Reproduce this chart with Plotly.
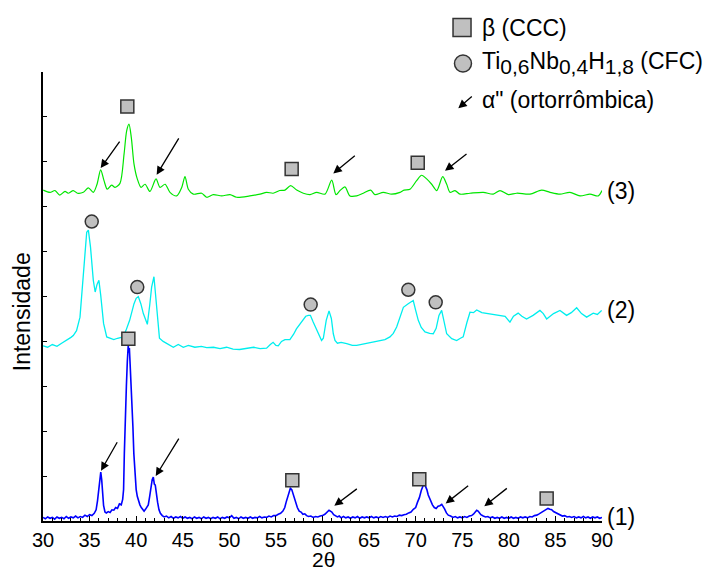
import plotly.graph_objects as go

# ---------------- data (2theta, intensity in arbitrary offset units) ----------------
blue_x = [30.0,30.25,30.5,30.75,31.0,31.25,31.5,31.75,32.0,32.25,32.5,32.75,33.0,33.25,33.5,33.75,34.0,34.25,34.5,34.75,
          35.0,35.25,35.5,35.7,35.85,36.0,36.1,36.2,36.3,36.4,36.5,36.65,36.8,37.0,37.2,37.4,37.6,37.8,38.0,38.2,38.4,
          38.55,38.65,38.73,38.8,38.95,39.05,39.15,39.2,39.27,39.35,39.45,39.55,39.65,39.75,39.87,40.0,40.12,40.25,40.4,
          40.55,40.7,40.85,41.0,41.15,41.3,41.45,41.6,41.72,41.84,41.95,42.05,42.15,42.3,42.45,42.6,42.8,43.0,43.25,43.5,
          43.75,44.0,44.25,44.5,44.75,45.0,45.25,45.5,45.75,46.0,46.25,46.5,46.75,47.0,47.25,47.5,47.75,48.0,48.25,48.5,
          48.75,49.0,49.25,49.5,49.75,50.0,50.25,50.5,50.75,51.0,51.25,51.5,51.75,52.0,52.25,52.5,52.75,53.0,53.25,53.5,
          53.75,54.0,54.25,54.5,54.75,55.0,55.25,55.5,55.75,55.95,56.1,56.25,56.4,56.55,56.7,56.85,57.0,57.15,57.3,57.5,
          57.7,57.9,58.1,58.3,58.5,58.75,59.0,59.25,59.5,59.75,60.0,60.25,60.5,60.7,60.85,61.0,61.2,61.4,61.6,61.8,
          62.0,62.25,62.5,62.75,63.0,63.25,63.5,63.75,64.0,64.25,64.5,64.75,65.0,65.25,65.5,65.75,66.0,66.25,66.5,66.75,
          67.0,67.25,67.5,67.75,68.0,68.25,68.5,68.75,69.0,69.25,69.5,69.75,70.0,70.2,70.4,70.6,70.75,70.9,71.0,71.1,
          71.2,71.35,71.5,71.65,71.8,72.0,72.2,72.4,72.6,72.8,72.95,73.1,73.3,73.5,73.75,74.0,74.25,74.5,74.75,75.0,
          75.25,75.5,75.75,76.0,76.2,76.4,76.55,76.7,76.85,77.0,77.25,77.5,77.75,78.0,78.25,78.5,78.75,79.0,79.25,79.5,
          79.75,80.0,80.25,80.5,80.75,81.0,81.25,81.5,81.75,82.0,82.25,82.5,82.75,83.0,83.25,83.5,83.75,84.0,84.2,84.4,
          84.6,84.8,85.0,85.25,85.5,85.75,86.0,86.25,86.5,86.75,87.0,87.25,87.5,87.75,88.0,88.25,88.5,88.75,89.0,89.25,
          89.5,89.75,90.0]
blue_y = [0.08,0.05,0.09,0.06,0.08,0.04,0.09,0.06,0.08,0.05,0.10,0.06,0.09,0.07,0.11,0.07,0.10,0.08,0.13,0.10,
          0.14,0.12,0.17,0.25,0.45,0.80,1.02,1.09,0.92,0.60,0.35,0.20,0.18,0.21,0.19,0.25,0.24,0.30,0.28,0.38,0.36,
          0.48,0.70,1.50,2.20,3.00,3.55,3.92,3.75,3.85,3.50,3.10,2.60,2.10,1.50,0.95,0.70,0.55,0.45,0.36,
          0.30,0.25,0.22,0.26,0.30,0.36,0.55,0.80,0.92,0.98,0.82,0.80,0.60,0.42,0.25,0.17,0.12,0.09,0.11,0.07,
          0.10,0.06,0.09,0.07,0.10,0.06,0.09,0.06,0.08,0.05,0.09,0.06,0.08,0.05,0.09,0.06,0.08,0.05,0.08,0.06,
          0.09,0.05,0.08,0.06,0.09,0.07,0.12,0.06,0.08,0.05,0.09,0.06,0.08,0.06,0.09,0.06,0.08,0.07,0.10,0.07,
          0.09,0.08,0.11,0.09,0.12,0.12,0.15,0.17,0.22,0.30,0.42,0.52,0.66,0.73,0.70,0.60,0.47,0.36,0.30,0.22,
          0.20,0.15,0.16,0.12,0.10,0.11,0.08,0.10,0.09,0.11,0.12,0.15,0.20,0.24,0.22,0.20,0.14,0.12,0.09,0.11,
          0.07,0.10,0.07,0.09,0.06,0.09,0.07,0.10,0.06,0.09,0.07,0.09,0.07,0.10,0.07,0.09,0.07,0.10,0.08,0.10,
          0.08,0.11,0.09,0.11,0.10,0.13,0.12,0.14,0.15,0.18,0.20,0.26,0.30,0.42,0.52,0.68,0.75,0.84,0.80,0.76,
          0.70,0.58,0.50,0.42,0.36,0.30,0.28,0.33,0.34,0.37,0.30,0.27,0.18,0.13,0.11,0.08,0.10,0.07,0.09,0.07,
          0.10,0.08,0.11,0.12,0.15,0.20,0.24,0.22,0.17,0.14,0.11,0.09,0.10,0.07,0.09,0.06,0.08,0.06,0.09,0.06,
          0.08,0.06,0.09,0.06,0.08,0.06,0.09,0.07,0.09,0.07,0.10,0.09,0.12,0.13,0.16,0.19,0.23,0.26,0.28,0.26,
          0.25,0.21,0.19,0.15,0.13,0.11,0.12,0.09,0.10,0.08,0.10,0.07,0.09,0.07,0.10,0.07,0.09,0.06,0.09,0.07,
          0.09,0.06,0.08]

cyan_x = [30.0,30.5,31.0,31.5,32.0,32.5,33.0,33.25,33.6,33.97,34.33,34.69,34.87,35.1,35.4,35.6,35.8,36.0,36.2,36.5,
          36.84,37.2,37.6,38.0,38.3,38.6,38.9,39.3,39.77,40.0,40.23,40.5,40.77,41.2,41.45,41.66,41.91,42.2,42.5,42.9,
          43.27,43.6,43.99,44.52,45.06,45.6,46.3,47.0,47.57,48.3,49.0,49.7,50.4,51.1,51.8,52.6,53.3,54.0,54.4,54.7,
          55.0,55.25,55.6,55.97,56.5,56.9,57.2,57.58,57.94,58.2,58.48,58.7,59.0,59.3,59.55,59.9,60.09,60.4,60.7,60.95,
          61.16,61.34,61.6,62.0,62.6,63.2,63.67,64.2,64.74,65.4,66.17,66.7,67.24,67.6,67.96,68.3,68.68,69.2,69.5,69.74,
          70.0,70.28,70.6,71.0,71.5,71.89,72.2,72.5,72.79,73.05,73.33,73.87,74.4,74.8,75.1,75.5,75.83,76.2,76.55,77.1,
          77.62,78.3,79.05,79.6,80.12,80.5,81.0,81.4,81.9,82.6,83.34,83.7,84.06,84.8,85.49,86.2,86.7,87.28,87.8,88.35,
          89.06,89.5,89.96]
cyan_y = [3.90,3.87,3.93,3.89,3.96,4.02,4.09,4.13,4.24,4.54,5.43,6.43,6.48,6.10,5.36,5.10,5.27,5.36,5.02,4.40,
          4.10,4.07,4.04,4.07,4.09,4.10,4.24,4.47,4.84,4.96,5.00,4.84,4.62,4.38,4.80,5.21,5.44,4.76,4.07,4.00,
          3.96,3.93,3.87,3.93,3.87,3.91,3.87,3.89,3.86,3.87,3.84,3.87,3.83,3.82,3.84,3.87,3.84,3.85,3.93,3.98,
          3.91,3.90,4.00,4.04,4.04,4.16,4.28,4.39,4.50,4.56,4.58,4.58,4.43,4.29,4.17,4.02,4.07,4.47,4.68,4.51,
          4.17,4.02,3.96,3.98,3.95,3.91,3.91,3.93,3.95,3.98,4.02,4.04,4.10,4.18,4.32,4.51,4.76,4.84,4.87,4.91,
          4.69,4.47,4.31,4.21,4.18,4.17,4.29,4.58,4.69,4.47,4.17,4.06,4.02,4.07,4.10,4.42,4.65,4.64,4.70,4.64,
          4.62,4.60,4.58,4.56,4.43,4.56,4.63,4.56,4.50,4.58,4.69,4.62,4.50,4.62,4.69,4.58,4.64,4.75,4.62,4.54,
          4.63,4.60,4.69]

green_x = [30.03,30.75,31.29,31.8,32.36,32.7,33.25,33.7,34.33,34.87,35.4,35.8,36.19,36.55,36.9,37.37,37.73,38.26,38.7,38.98,
           39.23,39.48,39.77,40.12,40.52,40.95,41.48,42.13,42.56,43.1,43.63,44.35,44.89,45.24,45.6,46.13,47.03,47.57,48.28,49.18,
           50.07,50.79,52.2,53.3,54.0,54.7,55.4,55.97,56.58,57.23,57.94,58.66,59.37,60.27,60.99,61.45,61.88,62.41,62.95,63.67,
           64.38,65.17,65.63,66.52,67.42,68.32,68.75,69.39,70.1,70.64,71.18,71.72,72.26,72.9,73.33,73.69,74.22,74.76,75.83,77.26,
           78.33,79.05,79.94,80.84,82.27,83.52,84.42,85.49,86.56,87.64,88.71,89.6,90.0]
green_y = [7.37,7.32,7.36,7.26,7.34,7.30,7.36,7.30,7.32,7.42,7.32,7.50,7.82,7.58,7.39,7.48,7.43,7.52,8.17,8.69,
           8.84,8.54,7.95,7.62,7.43,7.50,7.34,7.62,7.43,7.50,7.32,7.24,7.43,7.67,7.39,7.28,7.30,7.21,7.27,7.24,
           7.27,7.21,7.24,7.28,7.32,7.30,7.36,7.37,7.47,7.37,7.30,7.27,7.32,7.28,7.59,7.27,7.36,7.44,7.24,7.24,
           7.30,7.37,7.27,7.32,7.28,7.32,7.37,7.39,7.58,7.70,7.62,7.50,7.36,7.67,7.50,7.32,7.36,7.28,7.30,7.32,
           7.28,7.36,7.27,7.30,7.28,7.37,7.32,7.28,7.32,7.24,7.28,7.24,7.36]

# phase markers
beta_x = [39.05, 56.69, 70.22, 39.16, 56.76, 70.39, 84.06]
beta_y = [9.23, 7.84, 7.98, 4.06, 0.91, 0.93, 0.50]
hyd_x = [35.23, 40.12, 58.73, 69.21, 72.15]
hyd_y = [6.67, 5.21, 4.82, 5.15, 4.87]
# alpha'' arrows: head position (2theta, intensity)
alpha_x = [36.19, 42.20, 61.16, 73.15, 36.23, 42.10, 61.27, 73.22, 77.37]
alpha_y = [7.86, 7.71, 7.74, 7.80, 1.12, 1.00, 0.34, 0.39, 0.33]
alpha_tail = [(20, -28), (23, -38), (23, -19), (23, -18), (17, -30), (24, -39), (24, -18), (24, -19), (24, -19)]

series_labels = ["(1)", "(2)", "(3)"]
x_ticks = [30, 35, 40, 45, 50, 55, 60, 65, 70, 75, 80, 85, 90]

FONT = "Liberation Sans, Arial, sans-serif"
FS_TICK = 20
FS = 23

fig = go.Figure()
fig.add_trace(go.Scatter(x=blue_x, y=blue_y, mode="lines", line=dict(color="#0000ff", width=1.6)))
fig.add_trace(go.Scatter(x=cyan_x, y=cyan_y, mode="lines", line=dict(color="#00eeee", width=1.3)))
fig.add_trace(go.Scatter(x=green_x, y=green_y, mode="lines", line=dict(color="#00e600", width=1.2, shape="spline", smoothing=0.8)))
fig.add_trace(go.Scatter(x=beta_x, y=beta_y, mode="markers", cliponaxis=False,
                         marker=dict(symbol="square", size=13, color="#c0c0c0", line=dict(color="#333333", width=1.5))))
fig.add_trace(go.Scatter(x=hyd_x, y=hyd_y, mode="markers", cliponaxis=False,
                         marker=dict(symbol="circle", size=13, color="#c0c0c0", line=dict(color="#333333", width=1.5))))

annotations = []
for xa, ya, (dx, dy) in zip(alpha_x, alpha_y, alpha_tail):
    annotations.append(dict(x=xa, y=ya, xref="x", yref="y", ax=dx, ay=dy, axref="pixel", ayref="pixel",
                            showarrow=True, arrowhead=2, arrowsize=1.3, arrowwidth=1.3, arrowcolor="black",
                            standoff=0, text=""))
for lab, ys in zip(series_labels, [blue_y, cyan_y, green_y]):
    annotations.append(dict(x=90, y=ys[-1], xref="x", yref="y", xanchor="left", yanchor="middle", xshift=3,
                            text=lab, showarrow=False, font=dict(size=FS, family=FONT, color="black")))
# axis titles
annotations.append(dict(x=0.501, y=-0.1114, xref="paper", yref="paper", text="2θ", showarrow=False,
                        xanchor="center", yanchor="bottom", yshift=-2,
                        font=dict(size=FS_TICK + 1, family=FONT, color="black")))
annotations.append(dict(x=-0.0385, y=0.466, xref="paper", yref="paper", text="Intensidade", showarrow=False,
                        textangle=-90, xanchor="center", yanchor="middle", font=dict(size=FS, family=FONT, color="black")))
# legend texts
sub = "<sub><span style='font-size:21px'>{}</span></sub>"
annotations.append(dict(x=0.7818, y=1.098, xref="paper", yref="paper", text="β (CCC)", showarrow=False,
                        xanchor="left", yanchor="middle", font=dict(size=FS, family=FONT, color="black")))
annotations.append(dict(x=0.7818, y=1.020, xref="paper", yref="paper",
                        text="Ti" + sub.format("0,6") + "Nb" + sub.format("0,4") + "H" + sub.format("1,8") + " (CFC)",
                        showarrow=False, xanchor="left", yanchor="middle",
                        font=dict(size=FS, family=FONT, color="black")))
annotations.append(dict(x=0.7818, y=0.9376, xref="paper", yref="paper", text="α\" (ortorrômbica)", showarrow=False,
                        xanchor="left", yanchor="middle", font=dict(size=FS, family=FONT, color="black")))
annotations.append(dict(x=0.7429, y=0.9192, xref="paper", yref="paper", ax=15, ay=-13, axref="pixel", ayref="pixel",
                        showarrow=True, arrowhead=2, arrowsize=1.3, arrowwidth=1.3, arrowcolor="black", standoff=0, text=""))

shapes = [
    dict(type="rect", xref="paper", yref="paper", xsizemode="pixel", ysizemode="pixel",
         xanchor=0.7496, yanchor=1.0991, x0=-9, x1=9, y0=-9, y1=9,
         fillcolor="#c0c0c0", line=dict(color="#333333", width=1.5)),
    dict(type="circle", xref="paper", yref="paper", xsizemode="pixel", ysizemode="pixel",
         xanchor=0.7513, yanchor=1.0189, x0=-8.5, x1=8.5, y0=-8.5, y1=8.5,
         fillcolor="#c0c0c0", line=dict(color="#333333", width=1.5)),
]

fig.update_layout(
    width=718, height=571,
    margin=dict(l=43, r=116, t=72, b=50),
    paper_bgcolor="white", plot_bgcolor="white",
    showlegend=False,
    annotations=annotations, shapes=shapes,
    font=dict(family=FONT, size=FS, color="black"),
)
fig.update_xaxes(range=[30, 90], tickvals=x_ticks, ticks="inside", ticklen=5, tickwidth=1, tickcolor="black",
                 showline=True, linecolor="black", linewidth=2, showgrid=False, zeroline=False,
                 tickfont=dict(size=FS_TICK, family=FONT, color="black"),
                 minor=dict(dtick=1, ticks="inside", ticklen=3, tickcolor="black", tickwidth=1))
fig.update_yaxes(range=[0, 10], dtick=1, ticks="inside", ticklen=4, tickwidth=1, tickcolor="black",
                 showticklabels=False, showline=True, linecolor="black", linewidth=2, showgrid=False, zeroline=False)

fig.write_html("out.html")
